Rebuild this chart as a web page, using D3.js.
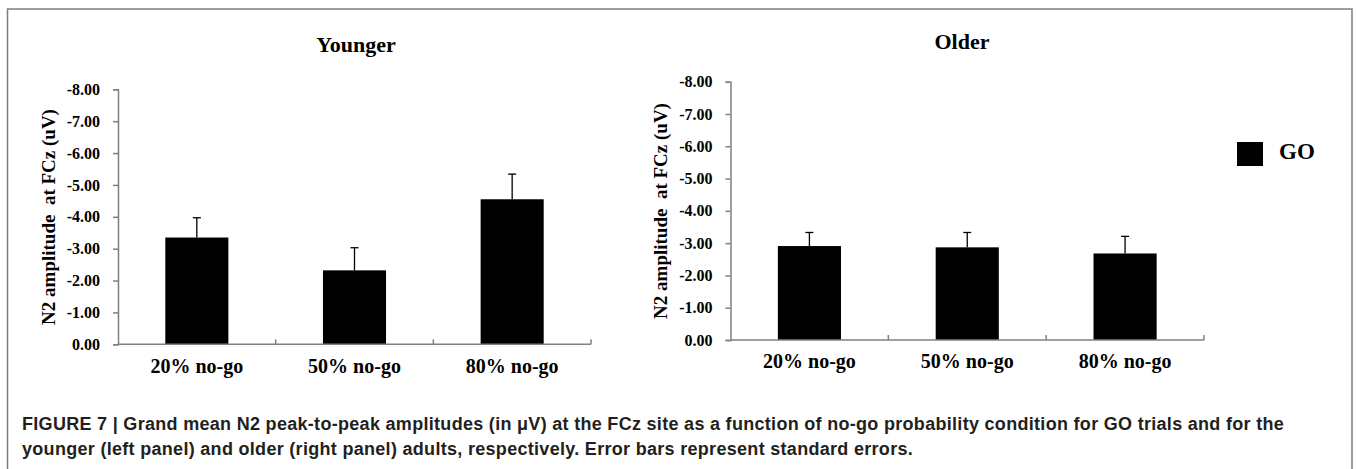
<!DOCTYPE html>
<html>
<head>
<meta charset="utf-8">
<script src="https://cdn.jsdelivr.net/npm/d3@7"></script>
<style>
  html, body { margin: 0; padding: 0; background: #fff; }
  svg { display: block; }
  .serif { font-family: "Liberation Serif", "Times New Roman", serif; font-weight: bold; }
  .ylabel { white-space: pre; }
  .caption { font-family: "Liberation Sans", Arial, sans-serif; font-weight: bold; fill: #231f20; }
</style>
</head>
<body>
<svg id="fig" width="1356" height="469"></svg>
<script>
// Conditions (no-go probability)
const categories = ["20% no-go", "50% no-go", "80% no-go"];
// Grand mean N2 amplitudes (µV) for GO trials
const youngerMeans = [-3.35, -2.32, -4.55];
const olderMeans   = [-2.91, -2.87, -2.68];
// Standard errors
const youngerSE = [0.62, 0.71, 0.79];
const olderSE   = [0.42, 0.46, 0.53];
// Value axis ticks
const yTicks = [0, -1, -2, -3, -4, -5, -6, -7, -8];
const panelTitles = ["Younger", "Older"];
const yLabel = "N2 amplitude  at FCz (uV)";
const legendLabel = "GO";
const captionLines = [
  "FIGURE 7 | Grand mean N2 peak-to-peak amplitudes (in \u03bcV) at the FCz site as a function of no-go probability condition for GO trials and for the",
  "younger (left panel) and older (right panel) adults, respectively. Error bars represent standard errors."
];

const svg = d3.select("#fig");
svg.append("rect").attr("width", 1356).attr("height", 469).attr("fill", "#fff");

// outer frame
svg.append("rect")
  .attr("x", 7.5).attr("y", 9).attr("width", 1344.5).attr("height", 480)
  .attr("fill", "none").attr("stroke", "#7d7d7d").attr("stroke-width", 1.5);

const axisColor = "#808080";

// panel geometry
const panels = [
  { title: panelTitles[0], means: youngerMeans, se: youngerSE,
    x0: 118, x1: 591, yBottom: 344.3, yTop: 89.3, titleX: 356, titleY: 52,
    labelX: 55, labelY: 217, catY: 373 },
  { title: panelTitles[1], means: olderMeans, se: olderSE,
    x0: 730.5, x1: 1204, yBottom: 340, yTop: 81.7, titleX: 962, titleY: 49,
    labelX: 667, labelY: 211, catY: 368 }
];

panels.forEach(p => {
  const g = svg.append("g");
  const x = d3.scaleBand().domain(categories).range([p.x0, p.x1]).paddingInner(0.6).paddingOuter(0.3);
  const xb = d3.scaleBand().domain(categories).range([p.x0, p.x1]);
  const y = d3.scaleLinear().domain([0, -8]).range([p.yBottom, p.yTop]);

  // title
  g.append("text").attr("class", "serif")
    .attr("x", p.titleX).attr("y", p.titleY)
    .attr("text-anchor", "middle").attr("font-size", 22)
    .text(p.title);

  // y axis
  const yAxis = d3.axisLeft(y).tickValues(yTicks).tickSize(5).tickPadding(13)
    .tickFormat(d => d.toFixed(2));
  const ya = g.append("g").attr("transform", `translate(${p.x0},0)`).call(yAxis);
  ya.select(".domain").attr("stroke", axisColor).attr("stroke-width", 1.5);
  ya.selectAll(".tick line").attr("stroke", axisColor).attr("stroke-width", 1.5);
  ya.selectAll(".tick text").attr("class", "serif").attr("font-size", 16).attr("fill", "#000");

  // y axis label
  g.append("text").attr("class", "serif ylabel")
    .attr("transform", `translate(${p.labelX},${p.labelY}) rotate(-90)`)
    .attr("text-anchor", "middle").attr("font-size", 19)
    .text(yLabel);

  // bars
  g.selectAll("rect.bar").data(p.means).join("rect").attr("class", "bar")
    .attr("x", (d, i) => x(categories[i]))
    .attr("width", x.bandwidth())
    .attr("y", d => y(d))
    .attr("height", d => y(0) - y(d))
    .attr("fill", "#000");

  // error bars
  const eb = g.selectAll("g.err").data(p.means).join("g").attr("class", "err");
  eb.append("line")
    .attr("x1", (d, i) => x(categories[i]) + x.bandwidth() / 2)
    .attr("x2", (d, i) => x(categories[i]) + x.bandwidth() / 2)
    .attr("y1", d => y(d))
    .attr("y2", (d, i) => y(d - p.se[i]))
    .attr("stroke", "#000").attr("stroke-width", 1.3);
  eb.append("line")
    .attr("x1", (d, i) => x(categories[i]) + x.bandwidth() / 2 - 4)
    .attr("x2", (d, i) => x(categories[i]) + x.bandwidth() / 2 + 4)
    .attr("y1", (d, i) => y(d - p.se[i]))
    .attr("y2", (d, i) => y(d - p.se[i]))
    .attr("stroke", "#000").attr("stroke-width", 1.3);

  // x axis line with inward boundary ticks
  g.append("line")
    .attr("x1", p.x0).attr("x2", p.x1).attr("y1", y(0)).attr("y2", y(0))
    .attr("stroke", axisColor).attr("stroke-width", 1.5);
  const bounds = categories.map(c => xb(c) + xb.bandwidth());
  g.selectAll("line.xt").data(bounds).join("line").attr("class", "xt")
    .attr("x1", d => d).attr("x2", d => d)
    .attr("y1", y(0)).attr("y2", y(0) - 5)
    .attr("stroke", axisColor).attr("stroke-width", 1.5);

  // category labels
  g.selectAll("text.cat").data(categories).join("text").attr("class", "cat serif")
    .attr("x", d => xb(d) + xb.bandwidth() / 2)
    .attr("y", p.catY)
    .attr("text-anchor", "middle").attr("font-size", 20)
    .text(d => d);
});

// legend
svg.append("rect").attr("x", 1237).attr("y", 142).attr("width", 26).attr("height", 24).attr("fill", "#000");
svg.append("text").attr("class", "serif").attr("x", 1279).attr("y", 158.5)
  .attr("font-size", 23).text(legendLabel);

// caption
svg.selectAll("text.caption").data(captionLines).join("text").attr("class", "caption")
  .attr("x", 22).attr("y", (d, i) => 430 + i * 25)
  .attr("font-size", 18).attr("letter-spacing", 0.3)
  .text(d => d);
</script>
</body>
</html>
